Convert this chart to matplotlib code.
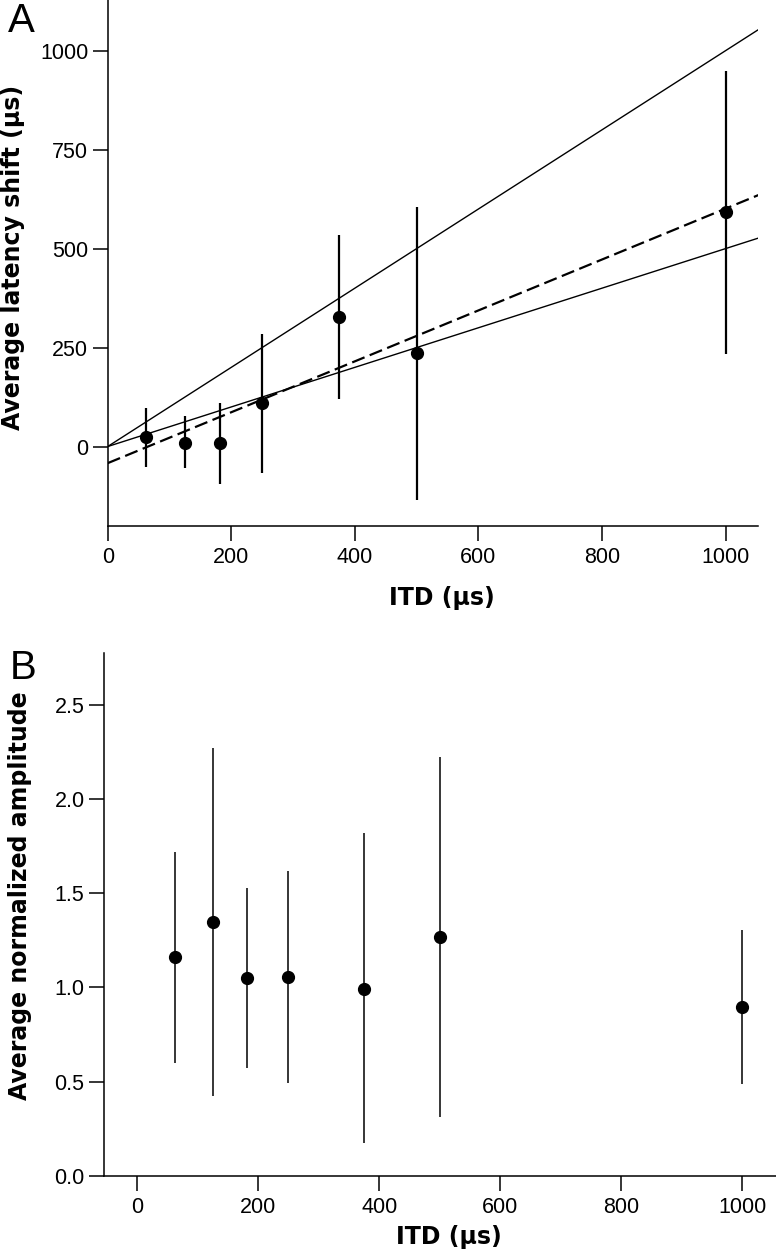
import numpy as np
import matplotlib
matplotlib.use("Agg")
import matplotlib.pyplot as plt

plt.rcParams['font.family'] = ['Liberation Sans', 'DejaVu Sans']

# panel A: latency shift
itd = [62.5, 125, 182, 250, 375, 500, 1000]
lat_mean = [24, 10, 8, 110, 327, 236, 592]
lat_lo = [-52, -55, -95, -68, 119, -135, 234]
lat_hi = [98, 76, 110, 285, 535, 606, 949]

# reference lines (slope, intercept)
ref_slopes = [1.0, 0.5]
fit_slope = 0.643
fit_icpt = -42

# panel B: normalized amplitude
amp_mean = [1.16, 1.345, 1.05, 1.057, 0.993, 1.266, 0.896]
amp_lo = [0.60, 0.424, 0.574, 0.495, 0.173, 0.313, 0.489]
amp_hi = [1.716, 2.268, 1.527, 1.619, 1.819, 2.22, 1.304]

W, H = 776, 1253
fig = plt.figure(figsize=(W/100, H/100), dpi=100)

axA = fig.add_axes([107.7/W, 1-525.7/H, (758.3-107.7)/W, 525.7/H])
axB = fig.add_axes([104/W, 1-1176/H, (776-104)/W, (1176-652.7)/H])

def style(ax):
    for s in ['top', 'right']:
        ax.spines[s].set_visible(False)
    for s in ['left', 'bottom']:
        ax.spines[s].set_linewidth(1.1)
    ax.tick_params(direction='out', length=11, width=1.1, labelsize=15.5, pad=3)
    ax.tick_params(axis='x', pad=4)

lab_font = dict(family='DejaVu Sans', fontweight='bold', fontsize=17)

# --- A ---
x = np.array(itd)
m = np.array(lat_mean)
axA.errorbar(x, m, yerr=[m - np.array(lat_lo), np.array(lat_hi) - m],
             fmt='o', color='black', ms=8.5, elinewidth=1.6, capsize=0, zorder=3)
for s in ref_slopes:
    axA.axline((0, 0), slope=s, color='black', lw=1.0)
axA.axline((0, fit_icpt), slope=fit_slope, color='black', lw=1.6, dashes=(6, 2.5))
axA.set_xlim(0, 1053)
axA.set_ylim(-200, 1128)
axA.set_xticks([0, 200, 400, 600, 800, 1000])
axA.set_yticks([0, 250, 500, 750, 1000])
style(axA)
axA.set_xlabel('ITD (μs)', va='center', **lab_font)
axA.set_ylabel('Average latency shift (μs)', va='center', **lab_font)
axA.xaxis.set_label_coords(0.513, -0.1375)
axA.yaxis.set_label_coords(-0.1456, 0.511)

# --- B ---
a = np.array(amp_mean)
axB.errorbar(x, a, yerr=[a - np.array(amp_lo), np.array(amp_hi) - a],
             fmt='o', color='black', ms=8.5, elinewidth=1.1, capsize=0, zorder=3)
axB.set_xlim(-55, 1056)
axB.set_ylim(0, 2.775)
axB.set_xticks([0, 200, 400, 600, 800, 1000])
axB.set_yticks([0.0, 0.5, 1.0, 1.5, 2.0, 2.5])
axB.set_yticklabels(['0.0', '0.5', '1.0', '1.5', '2.0', '2.5'])
style(axB)
axB.set_xlabel('ITD (μs)', va='center', **lab_font)
axB.set_ylabel('Average normalized amplitude', va='center', **lab_font)
axB.xaxis.set_label_coords(0.5126, -0.1166)
axB.yaxis.set_label_coords(-0.125, 0.535)

fig.text(8/W, 1-32/H, 'A', fontsize=29, va='baseline', ha='left')
fig.text(10/W, 1-679/H, 'B', fontsize=29, va='baseline', ha='left')

fig.savefig('out.png', dpi=100)
